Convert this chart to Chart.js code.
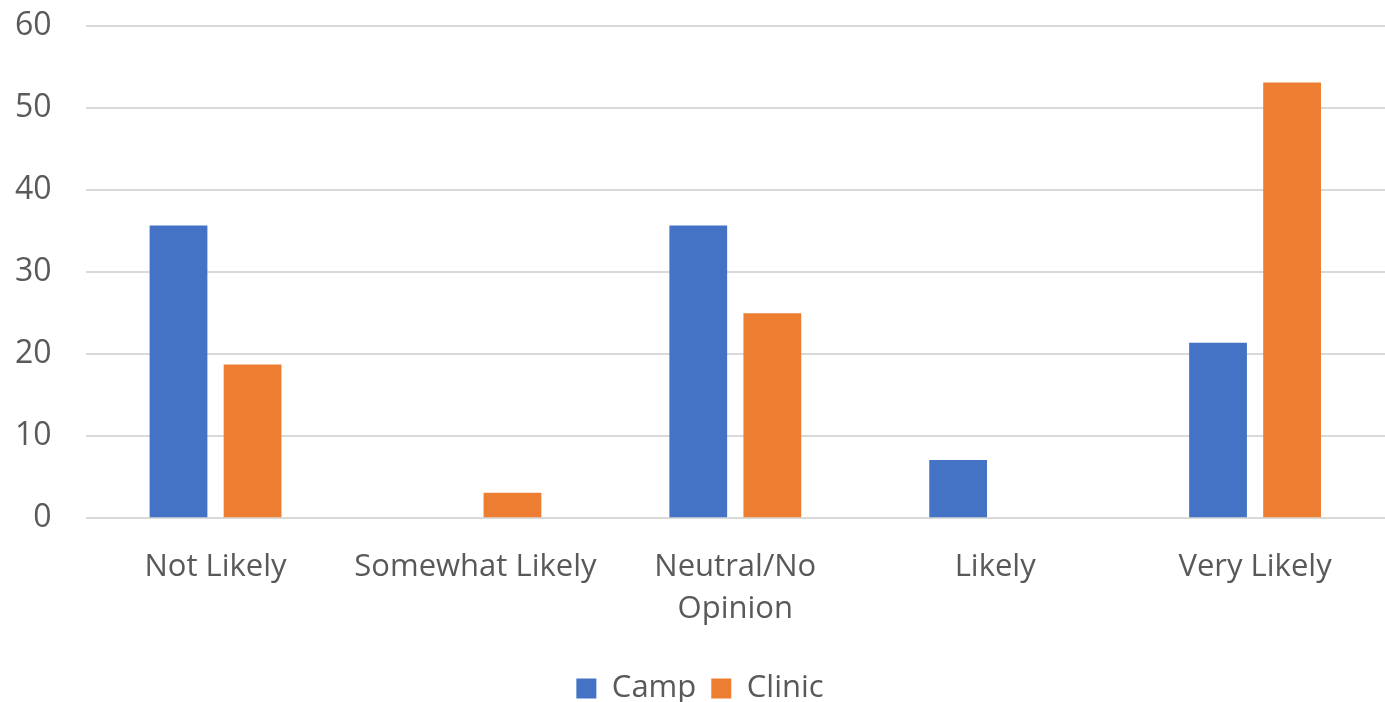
<!DOCTYPE html>
<html>
<head>
<meta charset="utf-8">
<script src="https://cdn.jsdelivr.net/npm/chart.js@4"></script>
<style>
	html, body { margin: 0; padding: 0; background: #fff; }
	#wrap { width: 1385px; height: 702px; }
</style>
</head>
<body>
<div id="wrap"><canvas id="likelyChart"></canvas></div>
<script>
//categories on the x axis
var categories = ['Not Likely', 'Somewhat Likely', ['Neutral/No', 'Opinion'], 'Likely', 'Very Likely'];

//percent of respondents per group
var camp_values = [35.7, 0, 35.7, 7.1, 21.4];
var clinic_values = [18.75, 3.1, 25, 0, 53.1];

//y axis range
var y_max = 60;
var y_step = 10;

var text_color = '#595959';
var font_family = '"Open Sans", "Liberation Sans", sans-serif';

var ctx = document.getElementById('likelyChart');

var likelyChart = new Chart(ctx, {
	type: 'bar',
	data: {
		labels: categories,
		datasets: [{
			label: 'Camp',
			data: camp_values,
			backgroundColor: '#4472C4',
			borderWidth: 0
		}, {
			label: 'Clinic',
			data: clinic_values,
			backgroundColor: '#ED7D31',
			borderWidth: 0
		}]
	},
	options: {
		responsive: true,
		maintainAspectRatio: false,
		animation: false,
		layout: {
			//negative bottom lets the legend sit close to the lower edge
			padding: { top: 26, left: 15, right: 0, bottom: -12 }
		},
		datasets: {
			bar: {
				categoryPercentage: 0.57,
				barPercentage: 0.78
			}
		},
		scales: {
			x: {
				grid: { display: false, drawTicks: false },
				border: { display: false },
				ticks: {
					color: text_color,
					padding: 28,
					maxRotation: 0,
					font: { family: font_family, size: 31, lineHeight: 1.35 }
				}
			},
			y: {
				min: 0,
				max: y_max,
				//invisible tick marks leave the gap between labels and grid lines
				grid: { color: '#D9D9D9', lineWidth: 2, drawTicks: true, tickLength: 34, tickColor: 'rgba(0,0,0,0)' },
				border: { display: false },
				ticks: {
					stepSize: y_step,
					color: text_color,
					padding: 0,
					font: { family: font_family, size: 32 }
				}
			}
		},
		plugins: {
			legend: {
				position: 'bottom',
				labels: {
					color: text_color,
					boxWidth: 20,
					boxHeight: 20,
					padding: 15,
					font: { family: font_family, size: 31 }
				}
			},
			tooltip: { enabled: false }
		}
	}
});
</script>
</body>
</html>
